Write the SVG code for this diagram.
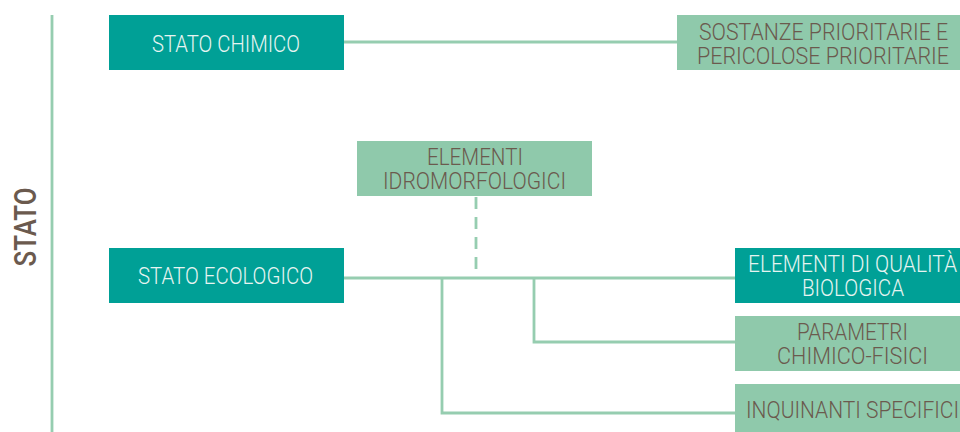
<svg xmlns="http://www.w3.org/2000/svg" width="960" height="432" viewBox="0 0 960 432">
<style>
.teal{fill:#00A096}
.mint{fill:#8FC9AB}
.tw{fill:#E6F4F1;font-family:Roboto,"Liberation Sans",sans-serif;font-weight:300;font-size:23px}
.tb{fill:#6B5A4E;font-family:Roboto,"Liberation Sans",sans-serif;font-weight:300;font-size:23px}
.ln{stroke:#96CDB0;stroke-width:2.8;fill:none}
</style>
<rect width="960" height="432" fill="#ffffff"/>
<g id="axis">
<line class="ln" x1="52" y1="15" x2="52" y2="432"/>
<text x="36" y="227" transform="rotate(-90 36 227)" text-anchor="middle" fill="#6B5A4E" font-family="Roboto,'Liberation Sans',sans-serif" font-weight="500" font-size="32" textLength="79" lengthAdjust="spacingAndGlyphs">STATO</text>
</g>
<g id="connectors">
<line class="ln" x1="344" y1="42" x2="677" y2="42"/>
<line class="ln" x1="341" y1="278" x2="735" y2="278"/>
<polyline class="ln" points="534,278 534,342 735,342"/>
<polyline class="ln" points="442,278 442,413 735,413"/>
<line class="ln" x1="476" y1="197" x2="476" y2="278" stroke-dasharray="12 8"/>
</g>
<g id="stato-chimico">
<rect class="teal" x="109" y="15" width="235" height="55"/>
<text class="tw" x="152" y="52" textLength="148" lengthAdjust="spacingAndGlyphs">STATO CHIMICO</text>
</g>
<g id="sostanze">
<rect class="mint" x="677" y="15" width="283" height="55"/>
<text class="tb" x="699" y="40" textLength="249" lengthAdjust="spacingAndGlyphs">SOSTANZE PRIORITARIE E</text>
<text class="tb" x="697" y="64" textLength="252" lengthAdjust="spacingAndGlyphs">PERICOLOSE PRIORITARIE</text>
</g>
<g id="idromorfologici">
<rect class="mint" x="357" y="141" width="235" height="55"/>
<text class="tb" x="427" y="165" textLength="96" lengthAdjust="spacingAndGlyphs">ELEMENTI</text>
<text class="tb" x="383" y="189" textLength="183" lengthAdjust="spacingAndGlyphs">IDROMORFOLOGICI</text>
</g>
<g id="stato-ecologico">
<rect class="teal" x="109" y="248" width="235" height="55"/>
<text class="tw" x="138" y="284" textLength="175" lengthAdjust="spacingAndGlyphs">STATO ECOLOGICO</text>
</g>
<g id="qualita-biologica">
<rect class="teal" x="735" y="248" width="225" height="55"/>
<text class="tw" x="748" y="272" textLength="209" lengthAdjust="spacingAndGlyphs">ELEMENTI DI QUALITÀ</text>
<text class="tw" x="802" y="296" textLength="102" lengthAdjust="spacingAndGlyphs">BIOLOGICA</text>
</g>
<g id="chimico-fisici">
<rect class="mint" x="735" y="316" width="225" height="55"/>
<text class="tb" x="797" y="340" textLength="111" lengthAdjust="spacingAndGlyphs">PARAMETRI</text>
<text class="tb" x="777" y="364" textLength="151" lengthAdjust="spacingAndGlyphs">CHIMICO-FISICI</text>
</g>
<g id="inquinanti">
<rect class="mint" x="735" y="384" width="225" height="48"/>
<text class="tb" x="746" y="418" textLength="213" lengthAdjust="spacingAndGlyphs">INQUINANTI SPECIFICI</text>
</g>
</svg>
